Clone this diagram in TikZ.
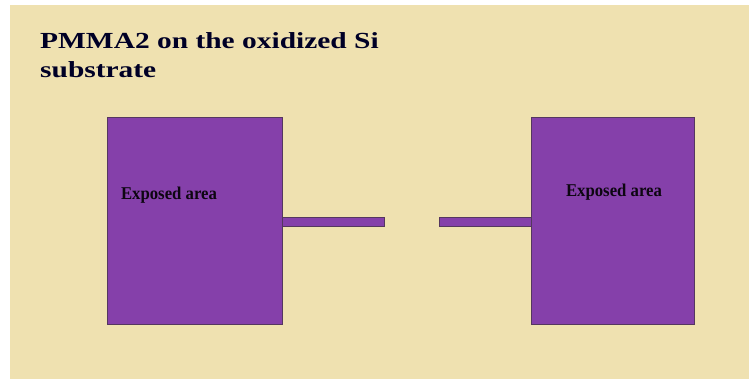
\documentclass[tikz,border=0pt]{standalone}
\usepackage{fontspec}
\setmainfont{Liberation Serif}
\newfontfamily\titlefont[FakeStretch=1.28]{Liberation Serif}
\newfontfamily\padfont[FakeStretch=0.93]{Liberation Serif}
\definecolor{bgBeige}{RGB}{239,225,176}
\definecolor{padPurple}{RGB}{133,64,170}
\definecolor{padEdge}{RGB}{85,55,95}
\tikzset{
    pad/.style={fill=padPurple,draw=padEdge,line width=1pt},
    padlabel/.style={font=\padfont\bfseries\fontsize{18}{20}\selectfont,text=black!90!padPurple,inner sep=0pt},
    titletext/.style={font=\titlefont\bfseries\fontsize{23}{28}\selectfont,text=black!85!blue,inner sep=0pt,anchor=base west}
}
\begin{document}
\begin{tikzpicture}[x=1pt,y=-1pt]
\useasboundingbox (0,0) rectangle (749,379);
\fill[bgBeige] (10,5) rectangle (749,379);

\coordinate (cAPt) at (107,118);
\coordinate (cBPt) at (282,324);
\coordinate (cCPt) at (531,118);
\coordinate (cDPt) at (694,324);
\coordinate (cEPt) at (384,218);
\coordinate (cFPt) at (439,227);

%\draw[red] (cEPt) -- (cFPt);
\draw[pad] (cEPt) rectangle (cBPt |- cFPt);
\draw[pad] (cFPt) rectangle (cCPt |- cEPt);

\draw[pad] (cAPt) rectangle (cBPt);
\draw[pad] (cCPt) rectangle (cDPt);

\node[titletext] (tLineA) at (40,49) {PMMA2 on the oxidized Si};
\node[titletext] (tLineB) at (40,78) {substrate};

\foreach \n/\x/\y in
{   lExpA/169/195,
    lExpB/614/192
}
{
    \node[padlabel] (\n) at (\x,\y) {Exposed area};
};
\end{tikzpicture}
\end{document}
